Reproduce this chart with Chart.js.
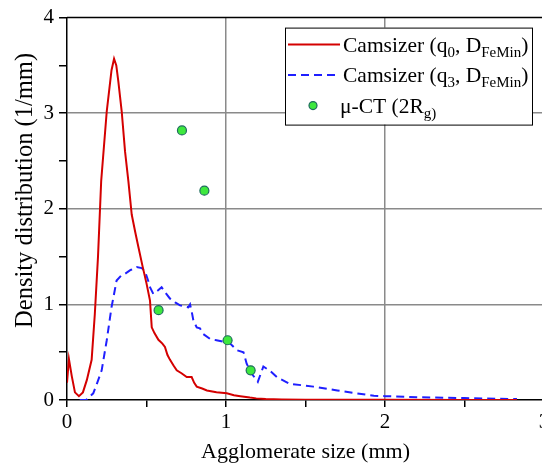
<!DOCTYPE html>
<html>
<head>
<meta charset="utf-8">
<script src="https://cdn.jsdelivr.net/npm/chart.js@4.4.0/dist/chart.umd.min.js"></script>
<style>
html,body{margin:0;padding:0;background:#fff;overflow:hidden}
#wrap{width:542px;height:468px;overflow:hidden}
</style>
</head>
<body>
<div id="wrap"><canvas id="densityChart" width="560" height="468"></canvas></div>
<script>
// Camsizer q0 (number density), D_FeMin
const q0X=[0,0.012,0.03,0.05,0.075,0.1,0.125,0.155,0.175,0.195,0.215,0.25,0.28,0.296,0.31,0.323,0.344,0.365,0.386,0.407,0.43,0.449,0.475,0.5,0.522,0.533,0.55,0.575,0.6,0.616,0.632,0.648,0.67,0.69,0.72,0.753,0.784,0.8,0.816,0.85,0.88,0.94,1.005,1.05,1.09,1.15,1.19,1.25,1.35,1.5,2,2.5,2.83];
const q0Y=[0.18,0.43,0.25,0.08,0.04,0.08,0.21,0.42,0.9,1.5,2.29,3.02,3.45,3.57,3.5,3.33,3.02,2.6,2.29,1.94,1.75,1.6,1.4,1.22,1.04,0.76,0.7,0.63,0.59,0.555,0.47,0.42,0.36,0.31,0.28,0.24,0.24,0.18,0.14,0.12,0.1,0.08,0.07,0.05,0.04,0.025,0.017,0.01,0.005,0.003,0.002,0.001,0.001];
// Camsizer q3 (volume density), D_FeMin
const q3X=[0.08,0.12,0.165,0.19,0.218,0.25,0.28,0.312,0.34,0.365,0.4,0.438,0.47,0.49,0.51,0.522,0.543,0.575,0.595,0.62,0.648,0.68,0.711,0.763,0.774,0.785,0.795,0.816,0.836,0.857,0.899,0.94,0.983,1.02,1.07,1.11,1.13,1.16,1.2,1.235,1.28,1.32,1.4,1.55,1.7,1.82,1.93,2,2.2,2.5,2.83];
const q3Y=[0,0,0.07,0.18,0.31,0.625,0.97,1.25,1.3,1.32,1.36,1.39,1.38,1.35,1.25,1.18,1.11,1.15,1.18,1.12,1.06,1.02,0.99,0.97,1,0.92,0.83,0.76,0.75,0.69,0.64,0.625,0.61,0.6,0.52,0.5,0.38,0.28,0.19,0.35,0.3,0.24,0.17,0.14,0.1,0.07,0.045,0.04,0.03,0.02,0.01];
// micro-CT, 2Rg
const ctX=[0.576,0.723,0.864,1.01,1.155];
const ctY=[0.94,2.82,2.19,0.625,0.31];

const seriesLabels=['Camsizer (q_{0}, D_{FeMin})','Camsizer (q_{3}, D_{FeMin})','\u03bc-CT (2R_{g)}'];
const xTitle='Agglomerate size (mm)';
const yTitle='Density distribution (1/mm)';

const family="'Liberation Serif','Times New Roman',serif";
const toPts=(xs,ys)=>xs.map((x,i)=>({x:x,y:ys[i]}));
const gridColor=c=>(c.tick&&Number.isInteger(c.tick.value)&&c.tick.value!==0&&c.tick.value!==4)?'#8a8a8a':'rgba(0,0,0,0)';

const frame={
    id:'frame',
    afterDatasetsDraw(chart){
        const {ctx,chartArea:a}=chart;
        ctx.save();
        ctx.strokeStyle='#000';ctx.lineWidth=1.5;
        ctx.beginPath();
        ctx.moveTo(a.left,a.top);ctx.lineTo(a.right,a.top);ctx.lineTo(a.right,a.bottom);
        ctx.stroke();
        ctx.restore();
    }
};

function drawRich(ctx,text,x,y,size,subSize){
    const parts=text.split(/_\{([^}]*)\}/);
    parts.forEach((p,i)=>{
        if(!p)return;
        const sub=i%2===1;
        ctx.font=(sub?subSize:size)+'px '+family;
        ctx.fillText(p,x,sub?y+5:y);
        x+=ctx.measureText(p).width;
    });
}

const legendBox={
    id:'legendBox',
    afterDraw(chart){
        const ctx=chart.ctx,a=chart.chartArea;
        const bx=a.left+218,by=a.top+10,bw=247,bh=97;
        ctx.save();
        ctx.fillStyle='#fff';ctx.fillRect(bx,by,bw,bh);
        ctx.strokeStyle='#000';ctx.lineWidth=1;ctx.strokeRect(bx+0.5,by+0.5,bw,bh);
        chart.data.datasets.forEach((ds,i)=>{
            const cy=by+17+i*30.5;
            if(ds.showLine===false){
                ctx.beginPath();ctx.arc(bx+28,cy,4,0,Math.PI*2);
                ctx.fillStyle=ds.backgroundColor;ctx.fill();
                ctx.strokeStyle=ds.borderColor;ctx.lineWidth=1.2;ctx.stroke();
            }else{
                ctx.beginPath();ctx.setLineDash(ds.borderDash||[]);
                ctx.strokeStyle=ds.borderColor;ctx.lineWidth=2;
                ctx.moveTo(bx+3,cy);ctx.lineTo(bx+55,cy);ctx.stroke();
                ctx.setLineDash([]);
            }
            ctx.fillStyle='#000';ctx.textBaseline='alphabetic';
            drawRich(ctx,ds.label,bx+(ds.showLine===false?55:58),cy+7,21.5,15);
        });
        ctx.restore();
    }
};

new Chart(document.getElementById('densityChart').getContext('2d'),{
    type:'scatter',
    data:{datasets:[
        {label:seriesLabels[0],data:toPts(q0X,q0Y),showLine:true,borderColor:'#d40000',backgroundColor:'#d40000',borderWidth:2,pointRadius:0,tension:0,order:1},
        {label:seriesLabels[1],data:toPts(q3X,q3Y),showLine:true,borderColor:'#1f1fff',backgroundColor:'#1f1fff',borderWidth:2,borderDash:[8,5],pointRadius:0,tension:0,order:2},
        {label:seriesLabels[2],data:toPts(ctX,ctY),showLine:false,backgroundColor:'#3ee83e',borderColor:'#1e6b5e',borderWidth:1.2,pointRadius:4.5,order:0}
    ]},
    options:{
        responsive:false,devicePixelRatio:1,animation:false,
        layout:{padding:{left:0,top:16,right:16,bottom:0}},
        plugins:{legend:{display:false},tooltip:{enabled:false}},
        scales:{
            x:{type:'linear',min:0,max:3,
                ticks:{stepSize:0.5,autoSkip:false,maxRotation:0,padding:3,color:'#000',font:{family:family,size:21},callback:v=>Number.isInteger(v)?v:''},
                grid:{color:gridColor,lineWidth:1.5,tickColor:'#000',tickLength:7,tickWidth:1.5},
                border:{color:'#000',width:1.5},
                title:{display:true,text:xTitle,color:'#000',font:{family:family,size:22},padding:{top:0,bottom:3}},
                afterFit:s=>{s.height=68;}
            },
            y:{type:'linear',min:0,max:4,
                ticks:{stepSize:0.5,autoSkip:false,padding:5,color:'#000',font:{family:family,size:21},callback:v=>Number.isInteger(v)?v:''},
                grid:{color:gridColor,lineWidth:1.5,tickColor:'#000',tickLength:8,tickWidth:1.5},
                border:{color:'#000',width:1.5},
                title:{display:true,text:'      '+yTitle,color:'#000',font:{family:family,size:24.5},padding:{top:11,bottom:0}},
                afterFit:s=>{s.width=67;}
            }
        }
    },
    plugins:[frame,legendBox]
});
</script>
</body>
</html>
